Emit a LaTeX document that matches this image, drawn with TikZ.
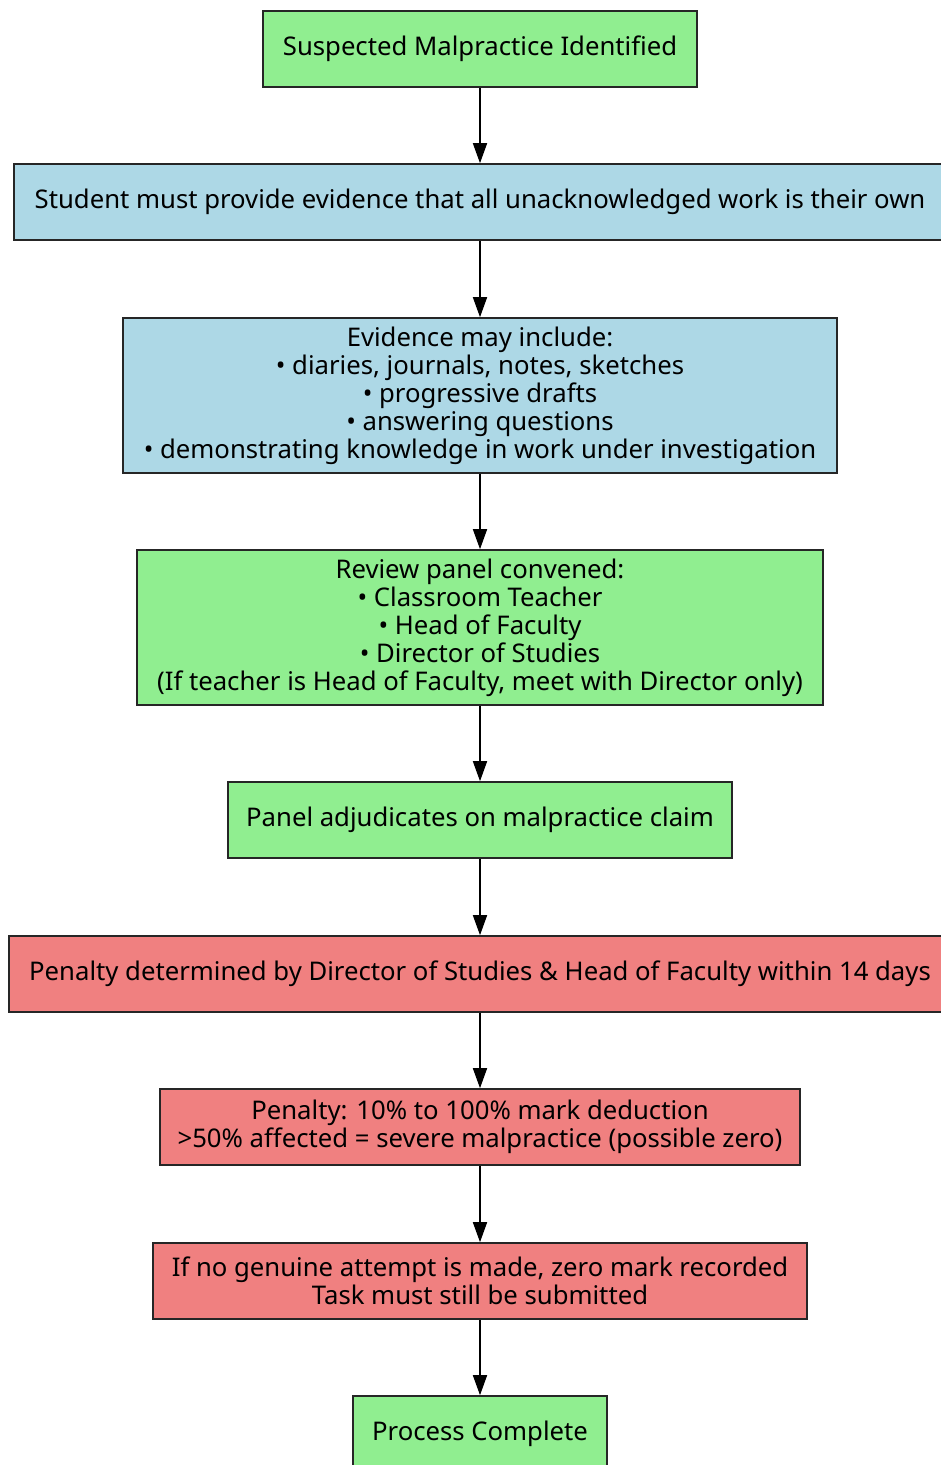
\documentclass[tikz,border=0pt]{standalone}
\usepackage{fontspec}
\setmainfont{Noto Sans}
\usetikzlibrary{arrows.meta}
\definecolor{okgreen}{HTML}{90EE90}
\definecolor{infoblue}{HTML}{ADD8E6}
\definecolor{warnred}{HTML}{F08080}
\tikzset{
  stepbox/.style={draw=black!85, line width=1.6pt, align=center, inner sep=0pt,
    font=\fontsize{25.7}{28}\selectfont},
  flow/.style={-{Triangle[length=20pt,width=14pt]}, line width=1.6pt}
}
\begin{document}
\begin{tikzpicture}[x=1pt,y=-1pt]
    \useasboundingbox (0,0) rectangle (941,1465);
    \node[stepbox, fill=okgreen, minimum width=434pt, minimum height=76pt] (suspect) at (480,49) {Suspected Malpractice Identified};
    \node[stepbox, fill=infoblue, minimum width=932pt, minimum height=76pt] (student) at (480,202) {Student must provide evidence that all unacknowledged work is their own};
    \node[stepbox, fill=infoblue, minimum width=714pt, minimum height=155pt] (evidence) at (480,395.5) {Evidence may include:\\ • diaries, journals, notes, sketches\\ • progressive drafts\\ • answering questions\\ • demonstrating knowledge in work under investigation};
    \node[stepbox, fill=okgreen, minimum width=686pt, minimum height=155pt] (panel) at (480,627.5) {Review panel convened:\\ • Classroom Teacher\\ • Head of Faculty\\ • Director of Studies\\ (If teacher is Head of Faculty, meet with Director only)};
    \node[stepbox, fill=okgreen, minimum width=504pt, minimum height=76pt] (adjudicate) at (480,820) {Panel adjudicates on malpractice claim};
    \node[stepbox, fill=warnred, minimum width=942pt, minimum height=76pt] (penalty) at (480,974) {Penalty determined by Director of Studies \& Head of Faculty within 14 days};
    \node[stepbox, fill=warnred, minimum width=640pt, minimum height=76pt] (range) at (480,1127) {Penalty: 10\% to 100\% mark deduction\\ >50\% affected = severe malpractice (possible zero)};
    \node[stepbox, fill=warnred, minimum width=654pt, minimum height=76pt] (nozero) at (480,1281) {If no genuine attempt is made, zero mark recorded\\ Task must still be submitted};
    \node[stepbox, fill=okgreen, minimum width=254pt, minimum height=76pt] (done) at (480,1434) {Process Complete};
    % arrows
    \draw[flow] (suspect) -- (student);
    \draw[flow] (student) -- (evidence);
    \draw[flow] (evidence) -- (panel);
    \draw[flow] (panel) -- (adjudicate);
    \draw[flow] (adjudicate) -- (penalty);
    \draw[flow] (penalty) -- (range);
    \draw[flow] (range) -- (nozero);
    \draw[flow] (nozero) -- (done);
\end{tikzpicture}
\end{document}
